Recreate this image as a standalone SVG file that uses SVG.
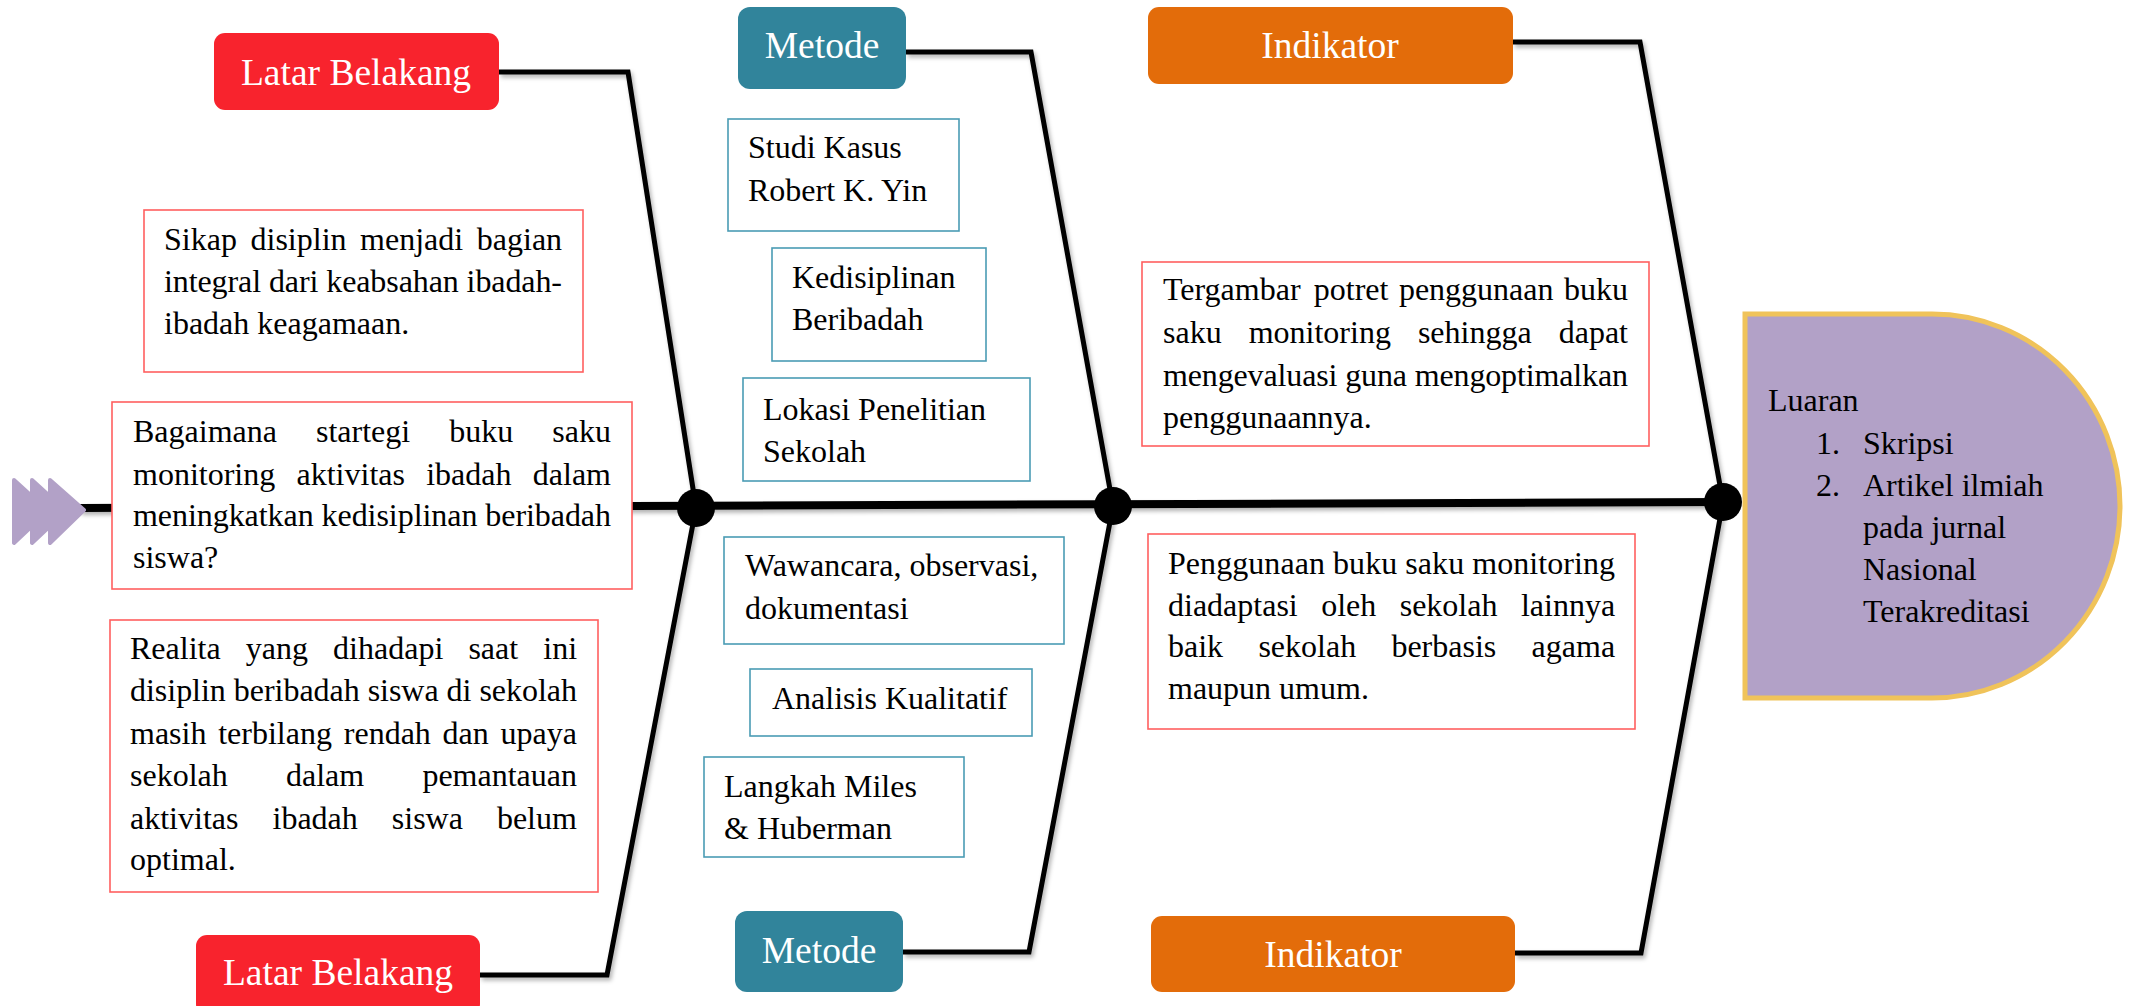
<svg xmlns="http://www.w3.org/2000/svg" width="2130" height="1006" viewBox="0 0 2130 1006">
<defs>
<filter id="sh" x="-20%" y="-20%" width="140%" height="140%">
<feDropShadow dx="2" dy="3" stdDeviation="2" flood-color="#000" flood-opacity="0.3"/>
</filter>
<style>
text{font-family:"Liberation Serif","Times New Roman",serif;font-size:32px;fill:#000}
.lbl{font-size:37.5px;fill:#fff;text-anchor:middle}
.red{fill:#F8232D}
.teal{fill:#31849B}
.org{fill:#E36C0A}
.rb{fill:#fff;stroke:#FF5F5F;stroke-width:1.6}
.tb{fill:#fff;stroke:#4A9CB4;stroke-width:1.6}
.con{fill:none;stroke:#000;stroke-width:5;stroke-linejoin:miter}
.chev{fill:#B2A1C7;stroke:#B2A1C7;stroke-width:4;stroke-linejoin:round}
</style>
</defs>
<rect width="2130" height="1006" fill="#fff"/>

<g id="connectors">
<g filter="url(#sh)">
<path class="con" d="M499,72 H628 L696,508"/>
<path class="con" d="M480,975 H607 L696,508"/>
<path class="con" d="M906,52 H1031 L1113,506"/>
<path class="con" d="M903,952 H1029 L1113,506"/>
<path class="con" d="M1513,42 H1640 L1723,502"/>
<path class="con" d="M1515,953 H1641 L1723,502"/>
<path d="M80,508 L1723,502" fill="none" stroke="#000" stroke-width="8"/>
</g>
<circle cx="696" cy="508" r="19" fill="#000"/>
<circle cx="1113" cy="506" r="19" fill="#000"/>
<circle cx="1723" cy="502" r="19" fill="#000"/>
</g>

<g id="tail">
<polygon class="chev" points="14,480 48,511 14,543"/>
<polygon class="chev" points="32,480 66,511 32,543"/>
<polygon class="chev" points="50,480 84,510 50,543"/>
</g>

<g id="latar-top">
<rect class="red" x="214" y="33" width="285" height="77" rx="11"/>
<text class="lbl" x="356" y="85">Latar Belakang</text>
</g>
<g id="latar-bottom">
<rect class="red" x="196" y="935" width="284" height="80" rx="11"/>
<text class="lbl" x="338" y="985">Latar Belakang</text>
</g>
<g id="metode-top">
<rect class="teal" x="738" y="7" width="168" height="82" rx="12"/>
<text class="lbl" x="822" y="58">Metode</text>
</g>
<g id="metode-bottom">
<rect class="teal" x="735" y="911" width="168" height="81" rx="12"/>
<text class="lbl" x="819" y="963">Metode</text>
</g>
<g id="indikator-top">
<rect class="org" x="1148" y="7" width="365" height="77" rx="11"/>
<text class="lbl" x="1330" y="58">Indikator</text>
</g>
<g id="indikator-bottom">
<rect class="org" x="1151" y="916" width="364" height="76" rx="11"/>
<text class="lbl" x="1333" y="967">Indikator</text>
</g>

<g id="sikap">
<rect class="rb" x="144" y="210" width="439" height="162"/>
<text y="250"><tspan x="164">Sikap</tspan><tspan x="250.5">disiplin</tspan><tspan x="360.1">menjadi</tspan><tspan x="476.8">bagian</tspan></text>
<text x="164" y="292" textLength="398" lengthAdjust="spacing">integral dari keabsahan ibadah-</text>
<text x="164" y="334">ibadah keagamaan.</text>
</g>

<g id="bagaimana">
<rect class="rb" x="112" y="402" width="520" height="187"/>
<text y="442"><tspan x="133">Bagaimana</tspan><tspan x="316">startegi</tspan><tspan x="449.3">buku</tspan><tspan x="552.3">saku</tspan></text>
<text y="485"><tspan x="133">monitoring</tspan><tspan x="296.5">aktivitas</tspan><tspan x="426.2">ibadah</tspan><tspan x="532.8">dalam</tspan></text>
<text x="133" y="526" textLength="478" lengthAdjust="spacing">meningkatkan kedisiplinan beribadah</text>
<text x="133" y="568">siswa?</text>
</g>

<g id="realita">
<rect class="rb" x="110" y="620" width="488" height="272"/>
<text y="659"><tspan x="130">Realita</tspan><tspan x="245.8">yang</tspan><tspan x="333.1">dihadapi</tspan><tspan x="468.4">saat</tspan><tspan x="543.3">ini</tspan></text>
<text x="130" y="701" textLength="447" lengthAdjust="spacing">disiplin beribadah siswa di sekolah</text>
<text y="744"><tspan x="130">masih</tspan><tspan x="218.2">terbilang</tspan><tspan x="343.8">rendah</tspan><tspan x="442.6">dan</tspan><tspan x="500.6">upaya</tspan></text>
<text y="786"><tspan x="130">sekolah</tspan><tspan x="286">dalam</tspan><tspan x="422.4">pemantauan</tspan></text>
<text y="829"><tspan x="130">aktivitas</tspan><tspan x="272.5">ibadah</tspan><tspan x="391.8">siswa</tspan><tspan x="496.9">belum</tspan></text>
<text x="130" y="870">optimal.</text>
</g>

<g id="studi">
<rect class="tb" x="728" y="119" width="231" height="112"/>
<text x="748" y="158">Studi Kasus</text>
<text x="748" y="201">Robert K. Yin</text>
</g>
<g id="kedisiplinan">
<rect class="tb" x="772" y="248" width="214" height="113"/>
<text x="792" y="288">Kedisiplinan</text>
<text x="792" y="330">Beribadah</text>
</g>
<g id="lokasi">
<rect class="tb" x="743" y="378" width="287" height="103"/>
<text x="763" y="420">Lokasi Penelitian</text>
<text x="763" y="462">Sekolah</text>
</g>
<g id="wawancara">
<rect class="tb" x="724" y="537" width="340" height="107"/>
<text x="745" y="576">Wawancara, observasi,</text>
<text x="745" y="619">dokumentasi</text>
</g>
<g id="analisis">
<rect class="tb" x="750" y="669" width="282" height="67"/>
<text x="772" y="709">Analisis Kualitatif</text>
</g>
<g id="langkah">
<rect class="tb" x="704" y="757" width="260" height="100"/>
<text x="724" y="797">Langkah Miles</text>
<text x="724" y="839">&amp; Huberman</text>
</g>

<g id="tergambar">
<rect class="rb" x="1142" y="262" width="507" height="184"/>
<text y="300"><tspan x="1163">Tergambar</tspan><tspan x="1313.8">potret</tspan><tspan x="1398.9">penggunaan</tspan><tspan x="1564">buku</tspan></text>
<text y="343"><tspan x="1163">saku</tspan><tspan x="1248.7">monitoring</tspan><tspan x="1417.9">sehingga</tspan><tspan x="1558.7">dapat</tspan></text>
<text x="1163" y="386" textLength="465" lengthAdjust="spacing">mengevaluasi guna mengoptimalkan</text>
<text x="1163" y="428">penggunaannya.</text>
</g>

<g id="penggunaan">
<rect class="rb" x="1148" y="534" width="487" height="195"/>
<text x="1168" y="574" textLength="447" lengthAdjust="spacing">Penggunaan buku saku monitoring</text>
<text y="616"><tspan x="1168">diadaptasi</tspan><tspan x="1321.2">oleh</tspan><tspan x="1399.7">sekolah</tspan><tspan x="1520.9">lainnya</tspan></text>
<text y="657"><tspan x="1168">baik</tspan><tspan x="1258.4">sekolah</tspan><tspan x="1391.4">berbasis</tspan><tspan x="1531.6">agama</tspan></text>
<text x="1168" y="699">maupun umum.</text>
</g>

<g id="luaran">
<path d="M1745,314 H1932 A188,192 0 0 1 1932,698 H1745 Z" fill="#B2A1C7" stroke="#F0C35A" stroke-width="5"/>
<text x="1768" y="411">Luaran</text>
<text x="1816" y="454">1.</text>
<text x="1863" y="454">Skripsi</text>
<text x="1816" y="496">2.</text>
<text x="1863" y="496">Artikel ilmiah</text>
<text x="1863" y="538">pada jurnal</text>
<text x="1863" y="580">Nasional</text>
<text x="1863" y="622">Terakreditasi</text>
</g>
</svg>
